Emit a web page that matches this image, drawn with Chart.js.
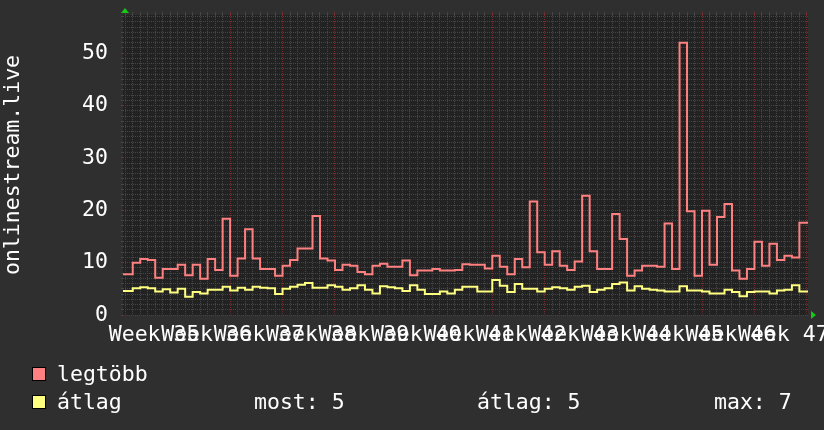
<!DOCTYPE html>
<html><head><meta charset="utf-8">
<script src="https://cdn.jsdelivr.net/npm/chart.js@4.4.0/dist/chart.umd.min.js"></script>
<style>html,body{margin:0;padding:0;background:#2f2f2f;}canvas{display:block}</style>
</head><body>
<canvas id="c" width="824" height="430"></canvas>
<script>
// ---- data (index 0 = partial day before the first full day) ----
const weekLabels = ['Week 35','Week 36','Week 37','Week 38','Week 39','Week 40','Week 41','Week 42','Week 43','Week 44','Week 45','Week 46','Week 47'];
const yTickLabels = ['0','10','20','30','40','50'];
const legtobb = [7.8,
  7.8,10.0,10.7,10.5,7.1,8.8,8.8,9.6,7.6,9.6,
  6.9,10.7,8.6,18.4,7.5,10.8,16.4,10.8,8.8,8.8,
  7.5,9.4,10.5,12.7,12.7,18.9,10.8,10.4,8.6,9.6,
  9.4,8.2,7.8,9.4,9.8,9.2,9.2,10.4,7.6,8.5,
  8.5,8.8,8.5,8.5,8.6,9.7,9.6,9.6,8.9,11.3,
  9.2,7.8,10.7,9.1,21.7,12.0,9.6,12.2,9.4,8.6,
  10.2,22.8,12.2,8.8,8.8,19.3,14.5,7.5,8.5,9.4,
  9.4,9.2,17.5,8.8,52.0,19.8,7.5,19.9,9.6,18.7,
  21.2,8.5,6.9,8.8,14.0,9.4,13.6,10.5,11.3,11.0,
  17.6];
const atlag = [4.6,
  4.6,5.1,5.3,5.1,4.5,4.9,4.3,5.0,3.5,4.4,
  4.1,4.8,4.8,5.4,4.7,5.2,4.8,5.4,5.2,5.1,
  4.0,5.0,5.4,5.8,6.1,5.2,5.2,5.7,5.4,4.8,
  5.1,5.7,4.8,4.1,5.5,5.3,5.1,4.6,5.7,4.8,
  4.0,4.0,4.5,4.1,4.8,5.4,5.4,4.5,4.5,6.7,
  5.6,4.4,5.9,5.0,5.0,4.5,5.0,5.3,5.1,4.8,
  5.4,5.6,4.4,4.8,5.1,5.9,6.2,4.7,5.5,5.0,
  4.8,4.7,4.5,4.5,5.5,4.7,4.7,4.5,4.1,4.1,
  4.8,4.4,3.6,4.4,4.5,4.5,4.1,4.7,4.8,5.7,
  4.5];
const seriesNames = ['legtöbb','átlag'];
const statNow = 'most: 5';
const statAvg = 'átlag: 5';
const statMax = 'max: 7';
const yAxisTitle = 'onlinestream.live';

// ---- styling ----
const FONT = 'DejaVu Sans Mono';
const FS = 21.5;
const RED = '#ff8080', YEL = '#ffff80';
const MINOR = '#464646', MAJOR = '#743030';
const X_MIN = -0.3, X_MAX = 91.15, Y_MAX = 57.3;

function toPoints(arr){
  const pts = arr.map((v,i)=>({x:i-1, y:v}));
  pts.push({x:arr.length, y:arr[arr.length-1]});
  return pts;
}
const dayTicks = []; for(let d=0; d<=91; d++) dayTicks.push(d);
const unitTicks = []; for(let v=0; v<=57; v++) unitTicks.push(v);

const decor = {
  id:'decor',
  beforeDraw(chart){
    const {ctx, chartArea:a} = chart;
    ctx.save();
    ctx.fillStyle = '#2f2f2f'; ctx.fillRect(0,0,chart.width,chart.height);
    ctx.fillStyle = '#222222'; ctx.fillRect(a.left,a.top,a.right-a.left,a.bottom-a.top);
    ctx.restore();
  },
  afterDraw(chart){
    const {ctx, chartArea:a} = chart;
    ctx.save();
    // arrows
    ctx.fillStyle = '#18c818';
    ctx.beginPath(); ctx.moveTo(a.left-2, a.top-2); ctx.lineTo(a.left+6, a.top-2); ctx.lineTo(a.left+2, a.top-7); ctx.closePath(); ctx.fill();
    ctx.beginPath(); ctx.moveTo(a.right+3, a.bottom-4); ctx.lineTo(a.right+3, a.bottom+4); ctx.lineTo(a.right+8, a.bottom); ctx.closePath(); ctx.fill();
    // y title
    ctx.fillStyle = '#ffffff';
    ctx.font = FS + 'px "' + FONT + '"';
    ctx.textAlign = 'center'; ctx.textBaseline = 'middle';
    ctx.translate(13, 165); ctx.rotate(-Math.PI/2);
    ctx.fillText(yAxisTitle, 0, 0);
    ctx.setTransform(1,0,0,1,0,0);
    // legend
    ctx.font = FS + 'px "' + FONT + '"';
    ctx.textAlign = 'left'; ctx.textBaseline = 'alphabetic';
    const rows = [[RED, seriesNames[0], 367], [YEL, seriesNames[1], 395]];
    rows.forEach(([col, name, y])=>{
      ctx.fillStyle = col; ctx.fillRect(32, y, 14, 14);
      ctx.strokeStyle = '#000'; ctx.lineWidth = 1; ctx.strokeRect(32.5, y+0.5, 13, 13);
      ctx.fillStyle = '#fff'; ctx.fillText(name, 57, y+14);
    });
    ctx.fillText(statNow, 254, 409);
    ctx.fillText(statAvg, 477, 409);
    ctx.fillText(statMax, 714, 409);
    ctx.restore();
  }
};

new Chart(document.getElementById('c'), {
  type:'line',
  data:{ datasets:[
    {label:seriesNames[0], data:toPoints(legtobb), borderColor:RED, borderWidth:2, pointRadius:0, stepped:true, xAxisID:'x', yAxisID:'y'},
    {label:seriesNames[1], data:toPoints(atlag), borderColor:YEL, borderWidth:2, pointRadius:0, stepped:true, xAxisID:'x', yAxisID:'y'}
  ]},
  options:{
    responsive:false, animation:false, devicePixelRatio:1,
    layout:{padding:{left:0, top:12, right:16, bottom:85}},
    plugins:{legend:{display:false}, tooltip:{enabled:false}},
    scales:{
      x:{ type:'linear', position:'top', min:X_MIN, max:X_MAX,
        afterBuildTicks:s=>{ s.ticks = dayTicks.map(v=>({value:v})); },
        ticks:{display:false},
        grid:{ color:c=>(c.tick && c.tick.value%7===0) ? MAJOR : MINOR, drawTicks:true, tickLength:3, tickBorderDash:[] },
        border:{display:false, dash:[1,1]},
        afterFit:s=>{ s.height = 3; s.paddingLeft = 0; s.paddingRight = 0; } },
      xl:{ type:'linear', position:'bottom', min:X_MIN, max:X_MAX,
        afterBuildTicks:s=>{ s.ticks = weekLabels.map((_,j)=>({value:3.85+7*j})); },
        ticks:{ autoSkip:false, maxRotation:0, minRotation:0, color:'#ffffff', font:{family:FONT, size:FS}, padding:0,
                callback:(v,i)=>weekLabels[i] },
        grid:{display:false}, border:{display:false},
        afterFit:s=>{ s.height = 30; s.paddingLeft = 0; s.paddingRight = 0; } },
      y:{ type:'linear', position:'left', min:0, max:Y_MAX,
        afterBuildTicks:s=>{ s.ticks = unitTicks.map(v=>({value:v})); },
        ticks:{ autoSkip:false, color:'#ffffff', font:{family:FONT, size:FS}, padding:13,
                callback:v=> v%10===0 ? yTickLabels[v/10] : '' },
        grid:{ color:c=>(c.tick && c.tick.value%10===0) ? MAJOR : MINOR, drawTicks:true, tickLength:2, tickBorderDash:[] },
        border:{display:false, dash:[1,1]},
        afterFit:s=>{ s.width = 123; s.paddingTop = 0; s.paddingBottom = 0; } }
    }
  },
  plugins:[decor]
});
</script>
</body></html>
